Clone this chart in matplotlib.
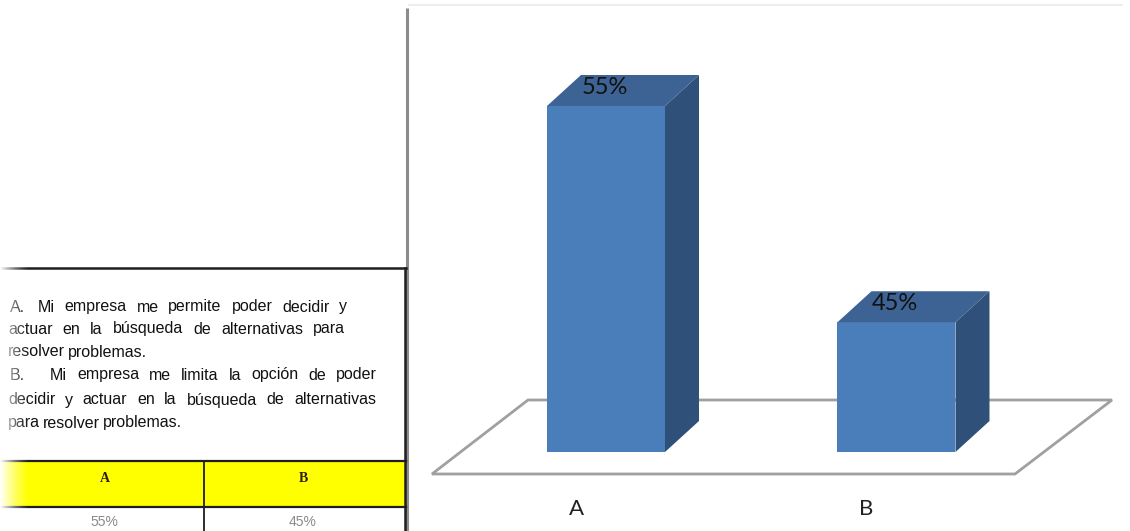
import matplotlib
matplotlib.use("Agg")
import matplotlib.pyplot as plt
from matplotlib.patches import Polygon, Rectangle
import numpy as np

# ---- data ----
categories = ["A", "B"]
values = [55, 45]
value_labels = ["55%", "45%"]
table_headers = ["A", "B"]
table_values = ["55%", "45%"]
statement_lines = [
    ("A.", "Mi empresa me permite poder decidir y"),
    (None, "actuar en la búsqueda de alternativas para"),
    (None, "resolver problemas."),
    ("B.", "Mi empresa me limita la opción de poder"),
    (None, "decidir y actuar en la búsqueda de alternativas"),
    (None, "para resolver problemas."),
]

# ---- styling ----
W, H = 1130, 531
FRONT = "#4A7EBB"
SIDE = "#2F5079"
TOP = "#3C6393"
CHART_FONT = ["Lato", "DejaVu Sans"]
SANS = ["Liberation Sans", "DejaVu Sans"]
SERIF = ["Liberation Serif", "DejaVu Serif"]

fig = plt.figure(figsize=(W / 100, H / 100), dpi=100)
fig.patch.set_facecolor("white")

# full-figure pixel canvas for frame, floor and table
bg = fig.add_axes([0, 0, 1, 1])
bg.set_xlim(0, W)
bg.set_ylim(H, 0)
bg.axis("off")

# chart frame
bg.plot([407, 407], [8, H], color="#8C8C8C", lw=2.2, solid_capstyle="butt")
bg.plot([409, 1122], [5, 5], color="#EDEDED", lw=1.5)

# floor of the 3D plot
floor = Polygon([(432, 474), (1015, 474), (1112, 400), (528, 400)], closed=True,
                facecolor="white", edgecolor="#A0A0A0", lw=2.0, zorder=1)
bg.add_patch(floor)

# ---- table on the left ----
bg.plot([0, 406], [268, 268], color="#1E1E1E", lw=1.8, zorder=3)
bg.plot([405, 405], [268, H], color="#1E1E1E", lw=1.8, zorder=3)
bg.add_patch(Rectangle((0, 461), 406, 46, facecolor="#FFFF00", edgecolor="none", zorder=2))
bg.plot([0, 406], [461, 461], color="#1E1E1E", lw=1.6, zorder=3)
bg.plot([0, 406], [507, 507], color="#1E1E1E", lw=1.6, zorder=3)
bg.plot([204, 204], [461, H], color="#1E1E1E", lw=1.3, zorder=3)

for xc, txt in zip([105, 303], table_headers):
    bg.text(xc, 478, txt, family=SERIF, weight="bold", fontsize=10,
            color="#2B2010", ha="center", va="center", zorder=4)
for xc, txt in zip([104, 303], table_values):
    bg.text(xc, 522, txt, family=SANS, fontsize=10, color="#8A8A8A",
            ha="center", va="center", zorder=4)

# justified statement text
renderer = fig.canvas.get_renderer()
FS = 11.5
line_specs = [  # (marker x, words start, words end, baseline y, justify)
    (10, 38, 347, 307, True),
    (None, 8, 345, 329, True),
    (None, 8, None, 352, False),
    (10, 50, 377, 375, True),
    (None, 8, 376, 400, True),
    (None, 8, None, 423, False),
]
for (marker, line), (mx, x0, x1, y, justify) in zip(statement_lines, line_specs):
    if marker is not None:
        bg.text(mx, y, marker, family=SANS, fontsize=FS, color="#111111",
                va="center", zorder=4)
    words = line.split()
    texts = [bg.text(0, y, w_, family=SANS, fontsize=FS, color="#111111",
                     va="center", zorder=4) for w_ in words]
    widths = [t.get_window_extent(renderer).width for t in texts]
    if justify and len(words) > 1:
        gap = max((x1 - x0 - sum(widths)) / (len(words) - 1), 2.0)
    else:
        gap = 3.0
    xx = x0
    for t, wd in zip(texts, widths):
        t.set_x(xx)
        xx += wd + gap

# soft fade on the left edge of the table
fade = np.ones((1, 40, 4))
fade[0, :, 3] = np.linspace(1.0, 0.0, 40) ** 1.3
bg.imshow(fade, extent=(0, 30, H, 262), aspect="auto", zorder=10,
          interpolation="bilinear")
bg.set_xlim(0, W)
bg.set_ylim(H, 0)

# ---- 3D column chart ----
base = 39
ax = fig.add_axes([432 / W, (H - 452) / H, (1110 - 432) / W, 346 / H])
ax.set_xlim(-0.599, 1.735)
ax.set_ylim(base, 55)
ax.patch.set_visible(False)
for s in ax.spines.values():
    s.set_visible(False)

px_x = (1110 - 432) / (1.735 + 0.599)
px_y = 346 / (55 - base)
bw = 118 / px_x
dx = 34 / px_x
dy = 31 / px_y

x = np.arange(len(values))
vals = np.array(values, dtype=float)
ax.bar(x, vals - base, bottom=base, width=bw, color=FRONT, zorder=2, clip_on=False)
for xi, v, lab in zip(x, vals, value_labels):
    r = xi + bw / 2
    ax.add_patch(Polygon([(r, base), (r, v), (r + dx, v + dy), (r + dx, base + dy)],
                         closed=True, facecolor=SIDE, edgecolor="none",
                         zorder=2, clip_on=False))
    ax.add_patch(Polygon([(xi - bw / 2, v), (r, v), (r + dx, v + dy),
                          (xi - bw / 2 + dx, v + dy)],
                         closed=True, facecolor=TOP, edgecolor="none",
                         zorder=2, clip_on=False))
    ax.text(xi - 0.005, v + 0.85, lab, family=CHART_FONT, fontsize=17, color="#111111",
            ha="center", va="center", zorder=3, clip_on=False)

ax.set_xticks(x - 0.103, categories)
ax.set_yticks([])
ax.tick_params(axis="x", length=0, pad=34, labelsize=16)
for t in ax.get_xticklabels():
    t.set_family(CHART_FONT)
    t.set_color("#222222")

fig.savefig("out.png", dpi=100)
